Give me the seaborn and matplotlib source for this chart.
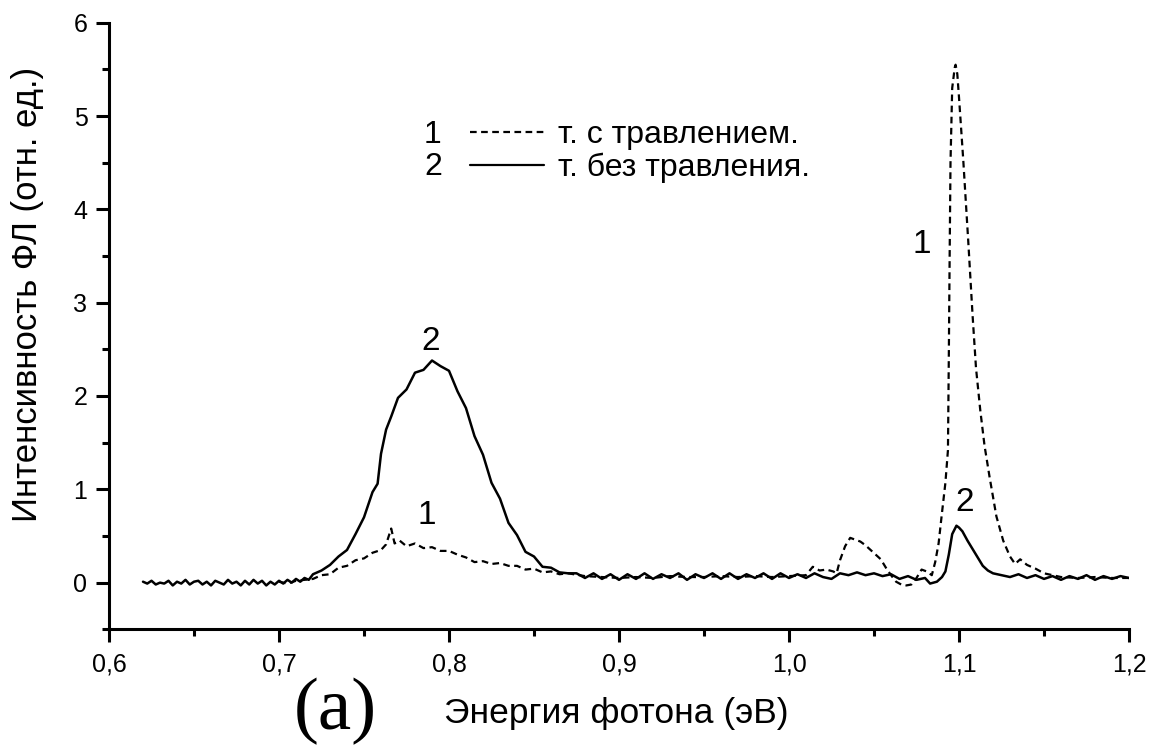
import matplotlib
matplotlib.use("Agg")
import matplotlib.pyplot as plt
from matplotlib.ticker import MultipleLocator, FuncFormatter
import seaborn as sns

# Photoluminescence spectra, photon energy (eV) vs intensity (arb. units)
# Curve 1: sample with etching (dashed)
energy_etched = [
    0.700, 0.705, 0.710, 0.715, 0.720, 0.725, 0.730, 0.735, 0.740, 0.745,
    0.750, 0.755, 0.760, 0.763, 0.766, 0.768, 0.771, 0.775, 0.780, 0.785,
    0.790, 0.795, 0.800, 0.805, 0.810, 0.815, 0.820, 0.825, 0.830, 0.835,
    0.840, 0.845, 0.850, 0.855, 0.860, 0.865, 0.870, 0.880, 0.890, 0.900,
    0.910, 0.920, 0.930, 0.940, 0.950, 0.960, 0.970, 0.980, 0.990, 1.000,
    1.010, 1.014, 1.018, 1.022, 1.026, 1.028, 1.030, 1.033, 1.036, 1.039,
    1.042, 1.045, 1.048, 1.051, 1.054, 1.057, 1.060, 1.063, 1.066, 1.069,
    1.072, 1.075, 1.078, 1.081, 1.084, 1.086, 1.088, 1.090, 1.092, 1.0935,
    1.094, 1.0945, 1.095, 1.096, 1.0975, 1.098, 1.099, 1.100, 1.1025, 1.1055,
    1.108, 1.110, 1.1125, 1.115, 1.118, 1.122, 1.126, 1.130, 1.133, 1.136,
    1.140, 1.145, 1.150, 1.155, 1.160, 1.170, 1.180, 1.190, 1.200,
]
intensity_etched = [
    0.01, -0.01, 0.02, 0.03, 0.04, 0.08, 0.09, 0.16, 0.18, 0.24,
    0.26, 0.32, 0.35, 0.41, 0.58, 0.42, 0.45, 0.39, 0.42, 0.37,
    0.38, 0.34, 0.34, 0.30, 0.27, 0.22, 0.23, 0.20, 0.21, 0.18,
    0.18, 0.14, 0.15, 0.11, 0.12, 0.09, 0.10, 0.07, 0.06, 0.05,
    0.06, 0.05, 0.07, 0.06, 0.06, 0.07, 0.06, 0.07, 0.06, 0.07,
    0.08, 0.17, 0.13, 0.14, 0.12, 0.10, 0.24, 0.39, 0.48, 0.46,
    0.44, 0.40, 0.35, 0.30, 0.25, 0.16, 0.08, 0.01, -0.02, -0.03,
    -0.02, 0.05, 0.14, 0.12, 0.08, 0.22, 0.42, 0.75, 1.07, 1.42,
    2.40, 3.50, 4.50, 5.30, 5.52, 5.55, 5.45, 5.20, 4.53, 3.64,
    2.86, 2.30, 1.85, 1.47, 1.13, 0.71, 0.45, 0.28, 0.20, 0.25,
    0.19, 0.15, 0.10, 0.08, 0.06, 0.05, 0.06, 0.05, 0.05,
]

# Curve 2: sample without etching (solid)
energy_plain = [
    0.6200, 0.6225, 0.6250, 0.6275, 0.6300, 0.6325, 0.6350, 0.6375, 0.6400, 0.6425,
    0.6450, 0.6475, 0.6500, 0.6525, 0.6550, 0.6575, 0.6600, 0.6625, 0.6650, 0.6675,
    0.6700, 0.6725, 0.6750, 0.6775, 0.6800, 0.6825, 0.6850, 0.6875, 0.6900, 0.6925,
    0.6950, 0.6975, 0.7000, 0.7025, 0.7050, 0.7075, 0.7100, 0.7125, 0.7150, 0.7175,
    0.720, 0.725, 0.730, 0.735, 0.740, 0.745, 0.750, 0.755, 0.758, 0.760,
    0.763, 0.766, 0.770, 0.775, 0.780, 0.785, 0.790, 0.795, 0.800, 0.805,
    0.810, 0.815, 0.820, 0.825, 0.830, 0.835, 0.840, 0.845, 0.850, 0.855,
    0.860, 0.865, 0.870, 0.875, 0.880, 0.885, 0.890, 0.895, 0.900, 0.905,
    0.910, 0.915, 0.920, 0.925, 0.930, 0.935, 0.940, 0.945, 0.950, 0.955,
    0.960, 0.965, 0.970, 0.975, 0.980, 0.985, 0.990, 0.995, 1.000, 1.005,
    1.010, 1.015, 1.020, 1.025, 1.030, 1.035, 1.040, 1.045, 1.050, 1.055,
    1.060, 1.065, 1.070, 1.075, 1.080, 1.083, 1.087, 1.090, 1.092, 1.094,
    1.096, 1.0985, 1.100, 1.102, 1.105, 1.108, 1.111, 1.114, 1.117, 1.120,
    1.125, 1.130, 1.135, 1.140, 1.145, 1.150, 1.155, 1.160, 1.165, 1.170,
    1.175, 1.180, 1.185, 1.190, 1.195, 1.200,
]
intensity_plain = [
    0.01, -0.01, 0.02, -0.02, 0.00, -0.01, 0.02, -0.03, 0.01, -0.01,
    0.03, -0.02, 0.01, 0.02, -0.02, 0.01, -0.03, 0.02, 0.00, -0.02,
    0.03, -0.01, 0.01, -0.03, 0.02, -0.02, 0.03, -0.01, 0.02, -0.03,
    0.01, -0.02, 0.02, -0.01, 0.03, 0.00, 0.04, 0.01, 0.05, 0.03,
    0.09, 0.13, 0.19, 0.28, 0.35, 0.52, 0.70, 0.97, 1.06, 1.38,
    1.64, 1.78, 1.98, 2.07, 2.25, 2.28, 2.38, 2.32, 2.27, 2.05,
    1.87, 1.57, 1.37, 1.07, 0.90, 0.64, 0.51, 0.33, 0.28, 0.17,
    0.16, 0.11, 0.10, 0.10, 0.05, 0.10, 0.04, 0.09, 0.03, 0.09,
    0.04, 0.10, 0.04, 0.09, 0.05, 0.10, 0.03, 0.09, 0.05, 0.10,
    0.04, 0.10, 0.04, 0.09, 0.05, 0.10, 0.04, 0.10, 0.05, 0.09,
    0.05, 0.10, 0.06, 0.04, 0.10, 0.08, 0.11, 0.08, 0.10, 0.07,
    0.09, 0.04, 0.07, 0.03, 0.05, -0.01, 0.01, 0.06, 0.12, 0.30,
    0.52, 0.61, 0.59, 0.55, 0.45, 0.36, 0.27, 0.18, 0.13, 0.10,
    0.08, 0.06, 0.09, 0.05, 0.08, 0.04, 0.07, 0.03, 0.07, 0.04,
    0.08, 0.03, 0.07, 0.04, 0.07, 0.05,
]

series_labels = ["т. с травлением.", "т. без травления."]
series_numbers = ["1", "2"]
x_tick_values = [0.6, 0.7, 0.8, 0.9, 1.0, 1.1, 1.2]
y_tick_values = [0, 1, 2, 3, 4, 5, 6]
x_title = "Энергия фотона (эВ)"
y_title = "Интенсивность ФЛ (отн. ед.)"
panel_tag = "(a)"

# Curve number annotations: (energy, intensity, text)
curve_tags_energy = [0.789, 0.787, 1.078, 1.1035]
curve_tags_intensity = [2.58, 0.72, 3.62, 0.86]
curve_tags_text = ["2", "1", "1", "2"]

sns.set_theme(style="ticks")
plt.rcParams["font.family"] = ["Liberation Sans", "DejaVu Sans"]
plt.rcParams["axes.linewidth"] = 2.2
plt.rcParams["text.color"] = "black"
plt.rcParams["axes.labelcolor"] = "black"

W, H = 1152, 747
fig = plt.figure(figsize=(W / 100, H / 100), dpi=100)
fig.patch.set_facecolor("white")
ax = fig.add_axes([109 / W, 1 - 629.3 / H, (1129 - 109) / W, (629.3 - 22.7) / H])
ax.set_facecolor("white")

sns.lineplot(x=energy_etched, y=intensity_etched, ax=ax, color="black",
             lw=1.6, linestyle=(0, (3, 2)), estimator=None, sort=False,
             label=series_labels[0])
sns.lineplot(x=energy_plain, y=intensity_plain, ax=ax, color="black",
             lw=1.8, estimator=None, sort=False, label=series_labels[1])

ax.set_xlim(0.6, 1.2)
ax.set_ylim(-0.5, 6)
ax.set_xticks(x_tick_values)
ax.set_yticks(y_tick_values)
ax.xaxis.set_minor_locator(MultipleLocator(0.05))
ax.yaxis.set_minor_locator(MultipleLocator(0.5))
ax.xaxis.set_major_formatter(FuncFormatter(lambda v, _: f"{v:.1f}".replace(".", ",")))
ax.yaxis.set_major_formatter(FuncFormatter(lambda v, _: f"{v:.0f}"))
ax.tick_params(which="major", direction="out", length=9.5, width=2.2,
               labelsize=18, color="black", labelcolor="black")
ax.tick_params(axis="y", which="major", pad=6)
ax.tick_params(axis="x", which="major", pad=7)
ax.tick_params(which="minor", direction="out", length=4.8, width=2.2, color="black")
for side in ("top", "right"):
    ax.spines[side].set_visible(False)
for side in ("left", "bottom"):
    ax.spines[side].set_color("black")
ax.set_xlabel("")
ax.set_ylabel("")

for ex, iy, tx in zip(curve_tags_energy, curve_tags_intensity, curve_tags_text):
    ax.text(ex, iy, tx, fontsize=24, ha="center", va="center", color="black")

leg = ax.legend(loc="upper left", bbox_to_anchor=(0.354, 0.840), frameon=False,
                fontsize=23, handlelength=2.3, handletextpad=0.45,
                labelspacing=0.08, borderpad=0, borderaxespad=0)
for line in leg.get_lines():
    line.set_linewidth(1.6)
for txt in leg.get_texts():
    txt.set_color("black")

fig.canvas.draw()
renderer = fig.canvas.get_renderer()
inv = fig.transFigure.inverted()
for txt, num in zip(leg.get_texts(), series_numbers):
    bb = txt.get_window_extent(renderer)
    ycen = inv.transform(((bb.x0 + bb.x1) / 2, (bb.y0 + bb.y1) / 2))[1]
    fig.text(433 / W, ycen, num, fontsize=23, ha="center", va="center")

fig.text(28 / W, 1 - 67 / H, y_title, rotation=90, ha="center", va="top", fontsize=25)
fig.text(616 / W, 1 - 713 / H, x_title, ha="center", va="center", fontsize=25.5)
fig.text(335 / W, 1 - 711 / H, panel_tag, ha="center", va="center", fontsize=54,
         family=["Liberation Serif", "DejaVu Serif"])

fig.savefig("out.png", dpi=100, facecolor="white")
